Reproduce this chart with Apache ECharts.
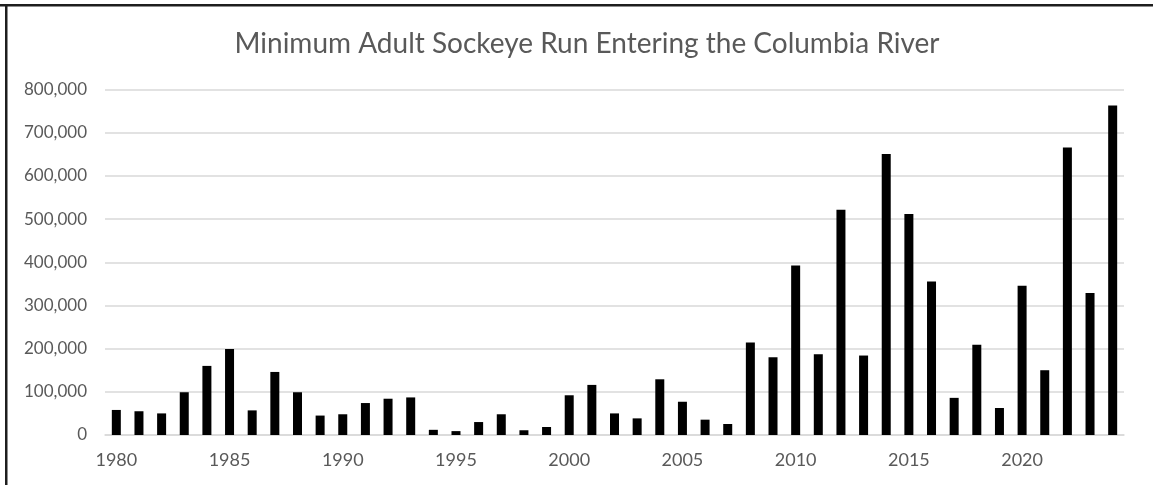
<!DOCTYPE html>
<html>
<head>
<meta charset="utf-8">
<title>Minimum Adult Sockeye Run Entering the Columbia River</title>
<script src="https://cdn.jsdelivr.net/npm/echarts@6/dist/echarts.min.js"></script>
<style>
  html, body { margin: 0; padding: 0; background: #ffffff; }
  #chart { width: 1153px; height: 485px; }
</style>
</head>
<body>
<div id="chart"></div>
<script>
// Run years, 1980 through 2024
const years = [
  1980, 1981, 1982, 1983, 1984, 1985, 1986, 1987, 1988, 1989,
  1990, 1991, 1992, 1993, 1994, 1995, 1996, 1997, 1998, 1999,
  2000, 2001, 2002, 2003, 2004, 2005, 2006, 2007, 2008, 2009,
  2010, 2011, 2012, 2013, 2014, 2015, 2016, 2017, 2018, 2019,
  2020, 2021, 2022, 2023, 2024
];

// Minimum adult sockeye counted entering the river each year
const sockeyeRun = [
  58000, 55000, 50000, 99000, 160000, 199000, 57000, 146000, 99000, 45000,
  48000, 74000, 84000, 87000, 12000, 9000, 30000, 48000, 11000, 18500,
  92000, 116000, 50000, 38500, 129000, 77000, 35500, 25500, 214000, 180000,
  392500, 187000, 521500, 184000, 650500, 511500, 355500, 86000, 209000, 62500,
  345600, 150000, 665700, 328700, 763000
];

// Value axis range
const yMin = 0;
const yMax = 800000;
const yStep = 100000;

const labelColor = '#595959';
const gridColor = '#d9d9d9';
const fontFamily = 'Lato, "Open Sans", "Noto Sans", sans-serif';

const chart = echarts.init(document.getElementById('chart'), null, { renderer: 'canvas' });

chart.setOption({
  animation: false,
  backgroundColor: '#ffffff',
  title: {
    text: 'Minimum Adult Sockeye Run Entering the Columbia River',
    left: 582,
    top: 25,
    textAlign: 'center',
    textStyle: {
      color: labelColor,
      fontFamily: fontFamily,
      fontWeight: 'normal',
      fontSize: 28
    }
  },
  // Frame along the top and left edges
  graphic: [
    { type: 'rect', shape: { x: 0, y: 4, width: 1153, height: 2.5 }, style: { fill: '#1e1e1e' }, silent: true },
    { type: 'rect', shape: { x: 5, y: 4, width: 2.5, height: 481 }, style: { fill: '#1e1e1e' }, silent: true }
  ],
  grid: {
    left: 105,
    right: 29,
    top: 89.5,
    bottom: 50,
    containLabel: false
  },
  xAxis: {
    type: 'category',
    data: years,
    boundaryGap: true,
    axisLine: { show: true, lineStyle: { color: gridColor, width: 1.5 } },
    axisTick: { show: false },
    axisLabel: {
      interval: 4,
      color: labelColor,
      fontFamily: fontFamily,
      fontSize: 18,
      margin: 16
    },
    splitLine: { show: false }
  },
  yAxis: {
    type: 'value',
    min: yMin,
    max: yMax,
    interval: yStep,
    axisLine: { show: false },
    axisTick: { show: false },
    axisLabel: {
      color: labelColor,
      fontFamily: fontFamily,
      fontSize: 17,
      margin: 18,
      formatter: function (v) { return v.toLocaleString('en-US'); }
    },
    splitLine: { show: true, lineStyle: { color: gridColor, width: 1.5 } }
  },
  series: [
    {
      type: 'bar',
      data: sockeyeRun,
      barWidth: 9,
      itemStyle: { color: '#000000' },
      silent: true
    }
  ]
});
</script>
</body>
</html>
